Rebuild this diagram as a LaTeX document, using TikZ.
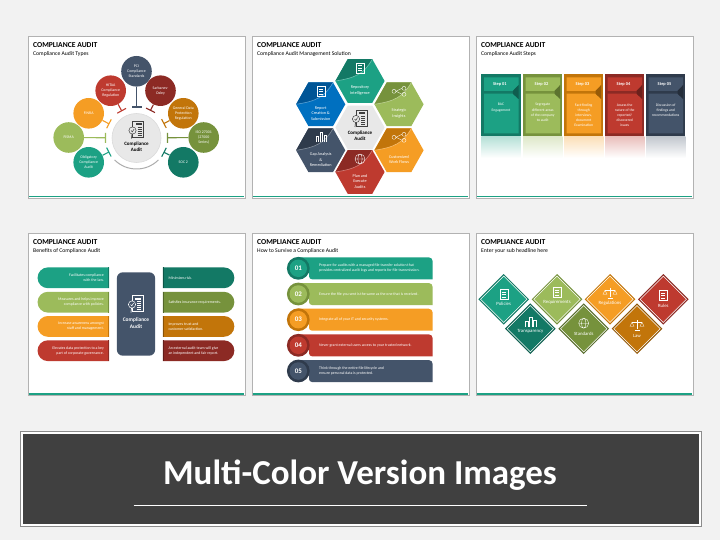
\documentclass[tikz,border=0pt]{standalone}
\usepackage{fontspec}
\setmainfont{Carlito}
\usetikzlibrary{positioning,calc,shapes.geometric,shapes.misc}
\definecolor{cteal}{HTML}{1CA184}
\definecolor{cdteal}{HTML}{137965}
\definecolor{cgreen}{HTML}{9CBB5B}
\definecolor{colive}{HTML}{76923C}
\definecolor{corange}{HTML}{F59D24}
\definecolor{cdorange}{HTML}{C2750A}
\definecolor{cred}{HTML}{BE3A2F}
\definecolor{cdred}{HTML}{8C2A24}
\definecolor{cnavy}{HTML}{44546A}
\definecolor{cdnavy}{HTML}{2F3B4C}
\definecolor{cblue}{HTML}{0070C0}
\definecolor{cdblue}{HTML}{005596}
\tikzset{
  pics/auditdoc/.style 2 args={code={
    \draw[#1, line width=.5pt, fill=#2] (-4,-8) rectangle (7,8);
    \fill[#1] (-1,-6) rectangle (5,-4);
    \foreach \l in {-2,0,2,4,6} { \draw[#1, line width=.35pt] (1,\l) -- (5,\l); }
    \draw[#1, line width=.5pt, fill=#2] (-4,1) circle (3.6);
    \draw[#1, line width=.5pt] (-5.5,1) -- (-4.2,2.4) -- (-2.4,-.4);
    \draw[#1, line width=.7pt] (-4.5,4.6) -- (-5,9);
  }},
  pics/sheeticon/.style={code={
    \draw[#1, line width=.35pt] (-4,-5) rectangle (4,5);
    \foreach \l in {-2.5,0,2.5} { \draw[#1, line width=.35pt] (-2,\l) -- (2,\l); }
  }},
  pics/balanceicon/.style={code={
    \draw[#1, line width=.35pt] (0,-5) -- (0,4) (-2.5,4.5) -- (2.5,4.5) (-5,-3) -- (5,-3);
    \draw[#1, line width=.35pt] (-5,-3) -- (-7,1) -- (-3,1) -- cycle (5,-3) -- (3,1) -- (7,1) -- cycle;
  }},
  pics/globeicon/.style={code={
    \draw[#1, line width=.35pt] (0,0) circle (5) (0,0) ellipse (2.2 and 5) (-5,0) -- (5,0);
  }},
  pics/flowicon/.style={code={
    \draw[#1, line width=.35pt] (-5,0) circle (2) (5,-3) circle (2) (5,3) circle (2);
    \draw[#1, line width=.35pt] (-3,0) -- (3,-3) (-3,0) -- (3,3);
  }},
  pics/barsicon/.style={code={
    \draw[#1, line width=.35pt] (-5,5) -- (-5,-1) -- (-2.5,-1) -- (-2.5,5) (-1,5) -- (-1,-5) -- (1.5,-5) -- (1.5,5) (3,5) -- (3,-2) -- (5.5,-2) -- (5.5,5);
  }},
}
\begin{document}
\begin{tikzpicture}[
    x=1pt, y=-1pt,
    panelbox/.style={draw=black!30, line width=1.2pt, fill=white},
    paneltitle/.style={font=\fontsize{7.6}{8}\selectfont\bfseries, text=black, anchor=west, inner sep=0pt},
    panelsub/.style={font=\fontsize{5.7}{6}\selectfont, text=black, anchor=west, inner sep=0pt},
    whitetxt/.style={font=\fontsize{3.9}{5}\selectfont, text=white, align=center, inner sep=0pt},
    hubtxt/.style={font=\fontsize{5}{6}\selectfont\bfseries, text=black, align=center, inner sep=0pt},
    typecirc/.style={circle, minimum size=30.6, inner sep=0pt},
    benefitpill/.style={rounded rectangle, minimum width=71.5, minimum height=20.8, inner sep=0pt},
    gemlabel/.style={font=\fontsize{4.8}{5}\selectfont, text=white, inner sep=0pt},
  ]
  \useasboundingbox (0,0) rectangle (720,540);
  \fill[black!5] (0,0) rectangle (720,540);

  % panels
  \foreach \n/\x/\y/\sub in {types/28/36/{Compliance Audit Types},
      solution/252/36/{Compliance Audit Management Solution},
      steps/476/36/{Compliance Audit Steps},
      benefits/28/233/{Benefits of Compliance Audit},
      survive/252/233/{How to Survive a Compliance Audit},
      headline/476/233/{Enter your sub headline here}} {
    \node (\n-panel) [panelbox, minimum width=217, minimum height=162, inner sep=0pt, anchor=north west] at (\x,\y) {};
    \draw[cteal, line width=1.8pt] (\x+.6,\y+160.6) -- (\x+216.4,\y+160.6);
    \node (\n-title) [paneltitle] at (\x+5,\y+8.7) { COMPLIANCE AUDIT };
    \node (\n-sub) [panelsub] at (\x+5,\y+17.8) { \sub };
  }

  % compliance audit types
  \coordinate (types-c) at (136.5,138);
  \foreach \n/\c/\x/\y/\txt in {pci/cnavy/136.5/71.3/{PCI\\Compliance\\Standards},
      hitaa/cred/110.7/90.7/{HITAA\\Compliance\\Regulation},
      finra/corange/88.7/113.3/{FINRA},
      fisma/cgreen/68.7/137.5/{FISMA},
      oblig/cteal/88.7/162.3/{Obligatory\\Compliance\\Audit},
      sox/cdred/160.5/90.7/{Sarbanes-\\Oxley},
      gdpr/cdorange/183.3/113.3/{General Data\\Protection\\Regulation},
      iso/colive/203.7/137.5/{ISO 27001\\(27000\\Series)},
      soc/cdteal/183.3/162.3/{SOC 2}} {
    \node (types-\n) [typecirc, fill=\c] at (\x,\y) {};
    \node (types-\n-text) [whitetxt] at (types-\n) { \txt };
    \coordinate (types-\n-end) at ($(types-c)!31pt!(types-\n)$);
    \draw[\c, line width=1.1pt] (types-\n) -- (types-\n-end);
    \draw[\c, line width=1.1pt] ($(types-\n-end)!5pt!90:(types-c)$) -- ($(types-\n-end)!5pt!-90:(types-c)$);
  }
  \node (types-hub) [circle, fill=black!9, draw=black!14, line width=.6pt, minimum size=49, inner sep=0pt] at (types-c) {};
  \draw[black!32, line width=1pt] (types-c) ++(45:31) arc[start angle=45, end angle=135, radius=31];
  \pic at (136.5,129.5) {auditdoc={black!75}{black!9}};
  \node (types-hub-text) [hubtxt] at (136.5,146.5) { Compliance\\Audit };

  % compliance audit management solution
  \foreach \n/\c/\d/\x/\y/\ic/\txt in {repo/cteal/cdteal/360/81/sheeticon/{Repository\\Intelligence},
      insight/cgreen/colive/399/104.3/flowicon/{Strategic\\Insights},
      flows/corange/cdorange/399/150.3/flowicon/{Customized\\Work Flows},
      plan/cred/cdred/360/172/globeicon/{Plan and\\Execute\\Audits},
      gap/cnavy/cdnavy/320.7/150.3/barsicon/{Gap Analysis\\\&\\Remediation},
      report/cblue/cdblue/320.7/104.3/sheeticon/{Report\\Creation \&\\Submission}} {
    \fill[\c] (\x-24.6,\y) -- (\x-12.3,\y-21.8) -- (\x+12.3,\y-21.8) -- (\x+24.6,\y) -- (\x+12.3,\y+21.8) -- (\x-12.3,\y+21.8) -- cycle;
    \fill[\d] (\x-24.6,\y) .. controls (\x-5,\y-3) and (\x+4,\y-7) .. (\x+12.3,\y-21.8) -- (\x-12.3,\y-21.8) -- cycle;
    \draw[\c!65!white, line width=.6pt] (\x-24.6,\y) .. controls (\x-5,\y-3) and (\x+4,\y-7) .. (\x+12.3,\y-21.8);
    \pic at (\x,\y-13) {\ic=white};
    \node (solution-\n) [whitetxt, font=\fontsize{4.2}{5.5}\selectfont] at (\x,\y+9.3) { \txt };
  }
  \fill[black!9] (335.4,127.5) -- (347.7,105.7) -- (372.3,105.7) -- (384.6,127.5) -- (372.3,149.3) -- (347.7,149.3) -- cycle;
  \pic at (360,118) {auditdoc={black!75}{black!9}};
  \node (solution-hub) [hubtxt] at (360,135.5) { Compliance\\Audit };

  % compliance audit steps
  \foreach \n/\c/\d/\x/\txt in {one/cteal/cdteal/481.3/{BAC\\Engagement},
      two/cgreen/colive/523/{Segregate\\different areas\\of the company\\to audit},
      three/corange/cdorange/564/{Fact-finding\\through\\interviews,\\document\\Examination},
      four/cred/cdred/605/{Assess the\\nature of the\\reported/\\discovered\\issues},
      five/cnavy/cdnavy/646/{Discussion of\\findings and\\recommendations}} {
    \shade[top color=\c!32!white, bottom color=white] (\x,137) rectangle (\x+39.3,158);
    \fill[\d] (\x,74.3) rectangle (\x+39.3,136.3);
    \fill[\c] (\x+2.7,77.5) -- (\x+37.2,77.5) -- (\x+37.2,85) -- (\x+31.5,91) -- (\x+2.7,91) -- cycle;
    \fill[\c] (\x+2.7,93.7) -- (\x+31.5,93.7) -- (\x+37.2,99) -- (\x+37.2,133.5) -- (\x+2.7,133.5) -- cycle;
    \fill[\d!78!black] (\x+37.2,85) -- (\x+31.5,91) -- (\x+31.5,93.7) -- (\x+37.2,99) -- cycle;
    \node (steps-\n-text) [whitetxt, font=\fontsize{3.7}{5.1}\selectfont, anchor=north] at (\x+19.7,103.4) { \txt };
  }
  \foreach \n/\x/\lbl in {one/481.3/{Step 01}, two/523/{Step 02}, three/564/{Step 03}, four/605/{Step 04}, five/646/{Step 05}} {
    \node (steps-\n-head) [whitetxt, font=\fontsize{4.4}{5}\selectfont\bfseries] at (\x+18.5,84.3) { \lbl };
  }

  % benefits of compliance audit
  \foreach \n/\c/\d/\y/\txt in {one/cteal/cdteal/277.8/{Facilitates compliance\\with the law.},
      two/cgreen/colive/302.2/{Measures and helps improve\\compliance with policies.},
      three/corange/cdorange/326.4/{Increase awareness amongst\\staff and management.},
      four/cred/cdred/350.7/{Elevates data protection to a key\\part of corporate governance.}} {
    \node (benefits-l\n) [benefitpill, rounded rectangle right arc=none, fill=\c] at (73.3,\y) {};
    \fill[\d] ($(benefits-l\n.north east)+(-1,0)$) rectangle (benefits-l\n.south east);
    \node (benefits-l\n-text) [whitetxt, align=right, anchor=east] at (104,\y) { \txt };
  }
  \foreach \n/\c/\y/\txt in {one/cdteal/277.8/{Minimizes risk.},
      two/colive/302.2/{Satisfies insurance requirements.},
      three/cdorange/326.4/{Improves trust and\\customer satisfaction.},
      four/cdred/350.7/{An external audit team will give\\an independent and fair report.}} {
    \node (benefits-r\n) [benefitpill, rounded rectangle left arc=none, fill=\c] at (198.6,\y) {};
    \fill[\c!70!black] (benefits-r\n.north west) rectangle ($(benefits-r\n.south west)+(1,0)$);
    \node (benefits-r\n-text) [whitetxt, align=left, anchor=west] at (168.3,\y) { \txt };
  }
  \node (benefits-hub) [fill=cnavy, rounded corners=6pt, minimum width=38.3, minimum height=83.4, inner sep=0pt] at (136,314) {};
  \pic at (136,303.5) {auditdoc={white}{cnavy}};
  \node (benefits-hub-text) [hubtxt, text=white, font=\fontsize{5.4}{7}\selectfont\bfseries] at (136,323.5) { Compliance\\Audit };

  % how to survive a compliance audit
  \foreach \n/\c/\d/\t/\txt in {01/cteal/cdteal/257.3/{Prepare for audits with a managed file transfer solution that\\provides centralized audit logs and reports for file transmission.},
      02/cgreen/colive/283/{Ensure the file you sent is the same as the one that is received.},
      03/corange/cdorange/308.7/{Integrate all of your IT and security systems.},
      04/cred/cdred/334.3/{Never grant external users access to your trusted network.},
      05/cnavy/cdnavy/360/{Think through the entire file lifecycle and\\ensure personal data is protected.}} {
    \fill[\c] (298,\t) [rounded corners=4pt] -- (432.7,\t) [sharp corners] -- (432.7,\t+22) [rounded corners=3pt] -- (309,\t+22) -- (309,\t+11) [sharp corners] -- (298,\t+11) -- cycle;
    \node (survive-\n-ring) [circle, fill=\d, minimum size=22.8, inner sep=0pt] at (298.3,\t+11) {};
    \node (survive-\n) [circle, fill=\c, minimum size=17.5, inner sep=0pt, font=\fontsize{7}{8}\selectfont\bfseries, text=white] at (298.3,\t+11) { \n };
    \node (survive-\n-text) [whitetxt, align=left, anchor=west] at (319,\t+11) { \txt };
  }

  % headline gems, upper row first
  \foreach \n/\c/\d/\x/\y/\ic/\iy/\ly/\txt in {policies/cteal/cdteal/503.7/299.3/sheeticon/5/4.4/Policies,
      reqs/cgreen/colive/557/299.3/sheeticon/7/3/Requirements,
      regs/corange/cdorange/610/299.3/balanceicon/6/4.4/Regulations,
      rules/cred/cdred/663.3/299.3/sheeticon/4/6.5/Rules,
      transp/cdteal/cdteal!80!black/530.3/328.7/barsicon/7/3/Transparency,
      standards/colive/colive!75!black/583.7/328.7/globeicon/5.5/5/Standards,
      law/cdorange/cdorange!75!black/637/328.7/balanceicon/3.5/7/Law} {
    \fill[\d] (\x-25.3,\y) -- (\x,\y-25.3) -- (\x+25.3,\y) -- (\x,\y+25.3) -- cycle;
    \fill[white] (\x-23.6,\y) -- (\x,\y-23.6) -- (\x+23.6,\y) -- (\x,\y+23.6) -- cycle;
    \fill[\c] (\x-22.6,\y) -- (\x,\y-22.6) -- (\x+22.6,\y) -- (\x,\y+22.6) -- cycle;
    \pic at (\x,\y-\iy) {\ic=white};
    \node (headline-\n) [gemlabel] at (\x,\y+\ly) { \txt };
  }

  % banner
  \node (banner-frame) [draw=black!45, line width=1pt, fill=white, minimum width=681, minimum height=95, inner sep=0pt, anchor=north west] at (20,431) {};
  \node (banner) [fill=black!75, minimum width=676, minimum height=90, inner sep=0pt, anchor=north west] at (22.5,433.5) {};
  \node (banner-title) [font=\fontsize{35}{40}\selectfont\bfseries, text=white, inner sep=0pt] at (360,475) { Multi-Color Version Images };
  \coordinate (banner-rule-a) at (133.6,505.3);
  \coordinate (banner-rule-b) at (587,505.3);
  \draw[white, line width=.6pt] (banner-rule-a) -- (banner-rule-b);
\end{tikzpicture}
\end{document}
